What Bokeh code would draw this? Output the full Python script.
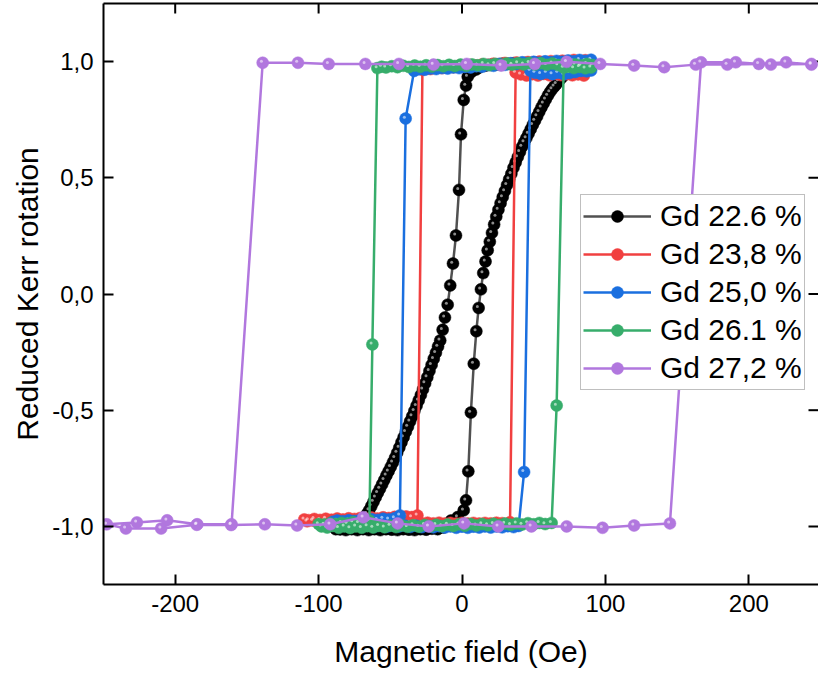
import math
from bokeh.plotting import figure
from bokeh.models import (ColumnDataSource, Range1d, LinearAxis, FixedTicker,
                          Legend, LegendItem)
from bokeh.transform import dodge
from bokeh.embed import file_html
from bokeh.resources import INLINE

# ---------------- data (field in Oe, reduced Kerr rotation) ----------------
GD226 = [(88, 0.995), (84, 0.998), (80, 0.995), (76, 0.998), (72, 0.995), (68, 0.997),
         (64, 0.994), (60, 0.996), (56, 0.993), (52, 0.995), (48, 0.992), (44, 0.994),
         (40, 0.991), (36, 0.993), (32, 0.990), (28, 0.991), (24, 0.988), (20, 0.986),
         (16, 0.982), (12, 0.975), (9.8, 0.966), (6.3, 0.954), (4.0, 0.935), (2.8, 0.897),
         (1.2, 0.835), (-0.7, 0.687), (-2.1, 0.448), (-4.2, 0.252), (-6.3, 0.131),
         (-8.2, 0.037), (-10.0, -0.046), (-11.9, -0.101), (-13.5, -0.154), (-15.2, -0.200),
         (-16.7, -0.226), (-18.2, -0.253), (-19.7, -0.279), (-21.2, -0.305), (-22.7, -0.331),
         (-24.2, -0.358), (-25.7, -0.384), (-27.2, -0.410), (-28.7, -0.435), (-30.2, -0.458),
         (-31.7, -0.481), (-33.2, -0.503), (-34.7, -0.526), (-36.2, -0.548), (-37.7, -0.571),
         (-39.2, -0.593), (-40.7, -0.616), (-42.2, -0.638), (-43.7, -0.661), (-45.2, -0.683),
         (-46.7, -0.705), (-48.2, -0.725), (-49.7, -0.744), (-51.2, -0.763), (-52.7, -0.781),
         (-54.2, -0.800), (-55.7, -0.819), (-57.2, -0.838), (-58.7, -0.856), (-60.2, -0.875),
         (-61.7, -0.894), (-63.2, -0.912), (-64.7, -0.930), (-66.2, -0.946), (-67.7, -0.960),
         (-70, -0.975), (-73, -0.988), (-76, -0.998), (-79, -1.005), (-82, -1.010),
         (-85, -1.012), (-88, -1.012),
         (-85, -1.012), (-81, -1.016), (-77, -1.012), (-73, -1.016), (-69, -1.012),
         (-65, -1.016), (-61, -1.012), (-57, -1.016), (-53, -1.012), (-49, -1.014),
         (-45, -1.016), (-41, -1.012), (-37, -1.014), (-33, -1.016), (-29, -1.012),
         (-25, -1.014), (-21, -1.010), (-17, -1.012), (-13, -1.005), (-10, -0.990),
         (-7.7, -0.975), (-3.0, -0.960), (1.2, -0.931), (2.8, -0.888), (4.4, -0.763),
         (6.2, -0.510), (8.2, -0.300), (10.0, -0.160), (11.6, -0.060), (13.2, 0.020),
         (14.8, 0.090), (16.4, 0.140),
         (17.9, 0.188), (19.4, 0.225), (20.9, 0.263), (22.4, 0.299), (23.9, 0.333),
         (25.4, 0.363), (26.9, 0.391), (28.4, 0.417), (29.9, 0.443), (31.4, 0.469),
         (32.9, 0.494), (34.4, 0.517), (35.9, 0.543), (37.4, 0.566), (38.9, 0.589),
         (40.4, 0.611), (41.9, 0.634), (43.4, 0.653), (44.9, 0.671), (46.4, 0.690),
         (47.9, 0.709), (49.4, 0.728), (50.9, 0.746), (52.4, 0.765), (53.9, 0.784),
         (55.4, 0.803), (56.9, 0.820), (58.4, 0.837), (59.9, 0.854), (61.4, 0.869),
         (62.9, 0.882), (64.4, 0.893), (65.9, 0.904), (67.4, 0.916), (68.9, 0.927),
         (70.4, 0.937), (73, 0.950), (76, 0.965), (79, 0.975), (82, 0.985), (85, 0.990),
         (88, 0.995)]

GD238 = [(86, 1.006), (82, 1.003), (78, 1.007), (74, 1.001), (70, 1.004), (66, 0.999),
         (62, 1.002), (58, 0.997), (54, 1.000), (50, 0.995), (46, 0.998), (42, 0.993),
         (38, 0.996), (34, 0.991), (30, 0.994), (26, 0.989), (22, 0.991), (18, 0.986),
         (14, 0.988), (10, 0.983), (6, 0.985), (2, 0.980), (-2, 0.982), (-6, 0.976),
         (-10, 0.978), (-14, 0.972), (-18, 0.974), (-22, 0.968), (-25, 0.970), (-27.6, 0.965),
         (-31.1, -0.953),
         (-35, -0.960), (-39, -0.957), (-43, -0.962), (-47, -0.959), (-51, -0.964),
         (-55, -0.961), (-59, -0.966), (-63, -0.962), (-67, -0.967), (-71, -0.964),
         (-75, -0.968), (-79, -0.965), (-83, -0.970), (-87, -0.966), (-91, -0.971),
         (-95, -0.967), (-99, -0.972), (-103, -0.968), (-107, -0.973), (-110, -0.970),
         (-108, -0.978), (-104, -0.975), (-100, -0.980), (-96, -0.977), (-92, -0.981),
         (-88, -0.978), (-84, -0.982), (-80, -0.979), (-76, -0.983), (-72, -0.980),
         (-68, -0.984), (-64, -0.981), (-60, -0.985), (-56, -0.982), (-52, -0.985),
         (-48, -0.982), (-44, -0.986), (-40, -0.983), (-36, -0.986), (-32, -0.983),
         (-28, -0.987), (-24, -0.984), (-20, -0.987), (-16, -0.984), (-12, -0.988),
         (-8, -0.985), (-4, -0.988), (0, -0.985), (4, -0.988), (8, -0.985), (12, -0.988),
         (16, -0.985), (20, -0.987), (24, -0.984), (28, -0.986), (33.5, -0.982),
         (37.4, 0.953),
         (41, 0.945), (45, 0.940), (49, 0.946), (53, 0.940), (57, 0.947), (61, 0.941),
         (65, 0.947), (69, 0.942), (73, 0.946), (77, 0.941), (81, 0.945), (85, 0.940)]

GD250 = [(90, 1.008), (86, 1.003), (82, 1.007), (78, 1.001), (74, 1.005), (70, 0.999),
         (66, 1.003), (62, 0.997), (58, 1.001), (54, 0.995), (50, 0.999), (46, 0.993),
         (42, 0.997), (38, 0.990), (34, 0.993), (30, 0.986), (26, 0.990), (22, 0.982),
         (18, 0.985), (14, 0.978), (10, 0.980), (6, 0.975), (2, 0.977), (-2, 0.972),
         (-6, 0.975), (-10, 0.970), (-14, 0.972), (-18, 0.968), (-22, 0.970), (-26, 0.965),
         (-30, 0.967), (-33.4, 0.960),
         (-39.3, 0.755), (-43.3, -0.953),
         (-47, -0.965), (-51, -0.970), (-55, -0.967), (-59, -0.972), (-63, -0.969),
         (-67, -0.975), (-71, -0.972), (-75, -0.977), (-79, -0.974), (-83, -0.978),
         (-87, -0.975), (-90, -0.980),
         (-88, -0.990), (-84, -0.995), (-80, -0.990), (-76, -0.997), (-72, -0.992),
         (-68, -0.998), (-64, -0.993), (-60, -0.999), (-56, -0.994), (-52, -1.000),
         (-48, -0.995), (-44, -1.000), (-40, -0.996), (-36, -1.002), (-32, -0.997),
         (-28, -1.003), (-24, -0.998), (-20, -1.004), (-16, -0.999), (-12, -1.005),
         (-8, -1.000), (-4, -1.006), (0, -1.001), (4, -1.006), (8, -1.001), (12, -1.005),
         (16, -1.000), (20, -1.005), (24, -1.000), (28, -1.004), (32, -0.999),
         (36, -1.003), (39.5, -0.998),
         (43.3, -0.766), (47.7, 0.961),
         (51, 0.952), (55, 0.947), (59, 0.953), (63, 0.946), (67, 0.952), (71, 0.945),
         (75, 0.951), (79, 0.955), (83, 0.960), (87, 0.958), (90, 0.962)]

GD261 = [(91, 0.985), (87, 0.990), (83, 0.983), (79, 0.988), (75, 0.982), (71, 0.990),
         (67, 0.985), (63, 0.992), (59, 0.986), (55, 0.993), (51, 0.987), (47, 0.994),
         (43, 0.988), (39, 0.993), (35, 0.987), (31, 0.992), (27, 0.986), (23, 0.990),
         (19, 0.985), (15, 0.990), (11, 0.984), (7, 0.988), (3, 0.982), (-1, 0.987),
         (-5, 0.981), (-9, 0.986), (-13, 0.980), (-17, 0.985), (-21, 0.979), (-25, 0.984),
         (-29, 0.978), (-33, 0.983), (-37, 0.977), (-41, 0.982), (-45, 0.976), (-49, 0.980),
         (-53, 0.975), (-56, 0.978), (-59, 0.972),
         (-62.5, -0.217), (-64.6, -0.975),
         (-68, -0.980), (-72, -0.985), (-76, -0.982), (-80, -0.988), (-84, -0.985),
         (-88, -0.990), (-92, -0.987), (-96, -0.992), (-100, -0.990),
         (-98, -1.000), (-94, -1.005), (-90, -0.998), (-86, -1.006), (-82, -1.000),
         (-78, -1.007), (-74, -1.000), (-70, -1.006), (-66, -0.999), (-62, -1.005),
         (-58, -0.998), (-54, -1.004), (-50, -0.997), (-46, -1.003), (-42, -0.996),
         (-38, -1.002), (-34, -0.995), (-30, -1.001), (-26, -0.994), (-22, -1.000),
         (-18, -0.993), (-14, -0.999), (-10, -0.992), (-6, -0.998), (-2, -0.991),
         (2, -0.997), (6, -0.990), (10, -0.996), (14, -0.990), (18, -0.995), (22, -0.989),
         (26, -0.994), (30, -0.988), (34, -0.993), (38, -0.987), (42, -0.992), (46, -0.986),
         (50, -0.991), (54, -0.985), (58, -0.990), (62.5, -0.985),
         (66, -0.480), (70.9, 0.974),
         (74, 0.978), (78, 0.972), (82, 0.977), (86, 0.971), (90, 0.975)]

GD272 = [(243.7, 0.987), (226, 0.997), (207, 0.990), (185, 0.987), (163, 0.987),
         (141, 0.976), (120, 0.983), (96.4, 0.990), (73, 0.999), (50.7, 0.990),
         (27.4, 0.983), (3.3, 0.990), (-19.9, 0.987), (-44, 0.990), (-67.4, 0.990),
         (-93, 0.990), (-114.4, 0.995), (-139, 0.995),
         (-160.7, -0.991), (-184.6, -0.991), (-205.6, -0.974), (-226.7, -0.983),
         (-247.7, -0.991),
         (-234.4, -1.009), (-209.8, -1.009), (-185, -0.993), (-161, -0.994),
         (-137.5, -0.991), (-115, -0.996), (-91.9, -0.991), (-68.8, -0.961),
         (-44.9, -0.987), (-23.2, -1.000), (1.4, -0.987), (25.3, -1.000), (48.4, -1.000),
         (73, -1.000), (98, -1.006), (120, -0.996), (145, -0.987),
         (166.7, 0.997), (190.9, 0.997), (215.4, 0.987), (243.7, 0.990)]

SERIES = [("Gd 22.6 %", GD226, "#515151", "#000000"),
          ("Gd 23,8 %", GD238, "#F14040", "#F14040"),
          ("Gd 25,0 %", GD250, "#1A6FDF", "#1A6FDF"),
          ("Gd 26.1 %", GD261, "#37AD6B", "#37AD6B"),
          ("Gd 27,2 %", GD272, "#B177DE", "#B177DE")]

X_TICKS = [-200, -100, 0, 100, 200]
X_LABELS = {-200: "-200", -100: "-100", 0: "0", 100: "100", 200: "200"}
Y_TICKS = [-1.0, -0.5, 0.0, 0.5, 1.0]
Y_LABELS = {-1.0: "-1,0", -0.5: "-0,5", 0.0: "0,0", 0.5: "0,5", 1.0: "1,0"}

FONT = "Liberation Sans"

xr = Range1d(-250, 248.6)
yr = Range1d(-1.25, 1.25)
p = figure(width=818, height=674, output_backend="svg", toolbar_location=None,
           x_range=xr, y_range=yr,
           min_border_left=103, min_border_right=0, min_border_top=3,
           min_border_bottom=90,
           x_axis_label="Magnetic field (Oe)", y_axis_label="Reduced Kerr rotation")
p.outline_line_color = None
p.xgrid.visible = False
p.ygrid.visible = False
p.background_fill_color = "white"
p.border_fill_color = "white"


def style_axis(ax, ticks, labels):
    ax.ticker = FixedTicker(ticks=ticks)
    ax.major_label_overrides = labels
    ax.major_tick_in = 10
    ax.major_tick_out = 0
    ax.minor_tick_line_color = None
    ax.major_tick_line_width = 2
    ax.major_tick_line_color = "black"
    ax.axis_line_width = 2
    ax.axis_line_color = "black"
    ax.major_label_text_font = FONT
    ax.major_label_text_font_size = "24px"
    ax.major_label_text_color = "black"
    ax.major_label_standoff = 10
    ax.axis_label_text_font = FONT
    ax.axis_label_text_font_size = "30px"
    ax.axis_label_text_font_style = "normal"
    ax.axis_label_text_color = "black"


style_axis(p.xaxis[0], X_TICKS, X_LABELS)
style_axis(p.yaxis[0], Y_TICKS, Y_LABELS)
p.xaxis[0].axis_label_standoff = 20
p.yaxis[0].axis_label_standoff = 5

# top frame line (no ticks / labels of its own)
top_axis = LinearAxis(ticker=FixedTicker(ticks=[]), axis_line_width=2, axis_line_color="black",
                      major_tick_in=0, major_tick_out=0, minor_tick_line_color=None,
                      major_label_standoff=0)
p.add_layout(top_axis, "above")

# inward mirror ticks on the top and right frame edges
p.ray(x=X_TICKS, y=[yr.end] * len(X_TICKS), length=10, length_units="screen",
      angle=-math.pi / 2, line_color="black", line_width=2)
p.ray(x=[xr.end] * len(Y_TICKS), y=Y_TICKS, length=10, length_units="screen",
      angle=math.pi, line_color="black", line_width=2)

items = []
for label, pts, lcol, mcol in SERIES:
    src = ColumnDataSource(dict(x=[a for a, b in pts], y=[b for a, b in pts]))
    ln = p.line("x", "y", source=src, line_color=lcol, line_width=2.5)
    sc = p.scatter("x", "y", source=src, size=12, fill_color=mcol, line_color=mcol,
                   line_width=0.5)
    p.scatter(x=dodge("x", -0.9, range=xr), y=dodge("y", 0.006, range=yr),
              source=src, size=3, fill_color="white", fill_alpha=0.55, line_color=None)
    items.append(LegendItem(label=label, renderers=[ln, sc]))

legend = Legend(items=items, location=(477, 194), orientation="vertical",
                label_text_font=FONT, label_text_font_size="30px", label_text_color="black",
                glyph_width=68, glyph_height=30, label_height=38, spacing=0, padding=2,
                margin=0, label_standoff=9, border_line_color="#808080",
                border_line_width=1, background_fill_color="white", background_fill_alpha=1)
p.add_layout(legend)

open("out.html", "w").write(file_html(p, INLINE))
